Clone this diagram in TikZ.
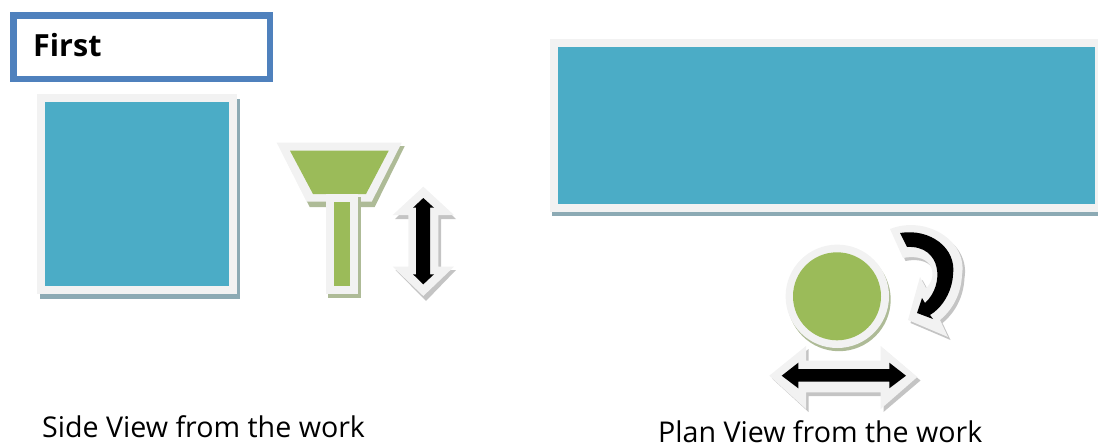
\documentclass[tikz,border=0pt]{standalone}
\usepackage{fontspec}
\setmainfont{Open Sans}
\definecolor{frameblue}{HTML}{4F81BD}
\definecolor{tealfill}{HTML}{4BACC6}
\definecolor{greenfill}{HTML}{9BBB59}
\definecolor{halo}{HTML}{F2F2F2}
\definecolor{tealshade}{HTML}{8CAAB4}
\definecolor{greenshade}{HTML}{AEBB97}
\definecolor{greyshade}{HTML}{C4C4C4}
\begin{document}
\begin{tikzpicture}[x=1pt,y=-1pt,
    caption/.style={inner sep=0pt,anchor=base west,font=\fontsize{28.6}{34}\selectfont},
    haloed/.style={fill=halo,draw=none},
    teal/.style={fill=tealfill,draw=none},
    green/.style={fill=greenfill,draw=none},
    black/.style={fill=black,draw=none}]
  \useasboundingbox (0,0) rectangle (1098,447);

  % title box
  \node[draw=frameblue,line width=6.5pt,minimum width=256.5pt,minimum height=63.5pt,inner sep=0pt,anchor=north west,fill=white] (titlebox) at (10,12) {};
  \node[inner sep=0pt,anchor=base west,font=\fontsize{30.5}{36}\selectfont\bfseries] (title) at (33,56.5) {First};

  % side view
  \fill[tealshade] (39.5,99) rectangle (240,299);
  \fill[haloed] (37,94) rectangle (237,294);
  \fill[teal] (45,102) rectangle (229,286);

  % funnel
  \fill[greenshade] (279.7,146.2) -- (404.7,146.2) -- (374.7,207) -- (309.7,207) -- cycle;
  \fill[haloed] (276.7,142.7) -- (401.7,142.7) -- (371.7,201.7) -- (306.7,201.7) -- cycle;
  \fill[green] (290,150.7) -- (388.7,150.7) -- (366,194) -- (313,194) -- cycle;
  \fill[greenshade] (328,197) rectangle (360.5,298);
  \fill[haloed] (325.7,194.3) rectangle (358,294);
  \fill[green] (333.7,202.3) rectangle (350,286);

  % up down arrow
  \fill[greyshade] (425.5,190) -- (456,219) -- (441,219) -- (441,270) -- (456,270) -- (426,301) -- (395.5,270) -- (411,270) -- (411,219) -- (395,219) -- cycle;
  \fill[haloed] (423.3,186.7) -- (392.7,215) -- (408.3,215) -- (408.3,266.7) -- (392.7,266.7) -- (423.3,296) -- (454,266.7) -- (438.3,266.7) -- (438.3,215) -- (454,215) -- cycle;
  \fill[black] (423.3,198) -- (413,207.7) -- (416,207.7) -- (416,274.3) -- (413,274.3) -- (423.3,284.3) -- (434,274.3) -- (430,274.3) -- (430,207.7) -- (434,207.7) -- cycle;

  % plan view
  \fill[tealshade] (552,43) rectangle (1098,216);
  \fill[haloed] (550,39) rectangle (1098,212);
  \fill[teal] (558,47) rectangle (1095,204);

  % left right arrow
  \fill[greyshade] (772,378.5) -- (808.5,349) -- (808.5,364) -- (883.5,364) -- (883.5,349) -- (920.5,380.5) -- (883.5,412) -- (883.5,396) -- (808.5,396) -- (808.5,412) -- cycle;
  \fill[haloed] (769.3,375.7) -- (806,346) -- (806,360.7) -- (880.7,360.7) -- (880.7,346) -- (917.3,377) -- (880.7,409) -- (880.7,392.3) -- (806,392.3) -- (806,409) -- cycle;
  \fill[black] (781.7,375.7) -- (798.3,362.7) -- (798.3,369) -- (889.3,369) -- (889.3,362.7) -- (906,375.7) -- (889.3,388.3) -- (889.3,381.7) -- (798.3,381.7) -- (798.3,388.3) -- cycle;

  % plan circle
  \fill[greenshade] (839,299.5) circle (51.7);
  \fill[haloed] (837.3,296.3) circle (51.7);
  \fill[green] (837,296.3) circle (44);

  % rotate arrow
  \fill[greyshade] (892.5,232) .. controls (927.5,218) and (970.5,243) .. (964.5,278) .. controls (963.5,298) and (954.5,313) .. (942.5,323) -- (950.5,340) -- (910.5,323) -- (922.5,280) -- (928.5,291) .. controls (940.5,281) and (937.5,255) .. (905.5,261) -- cycle;
  \fill[haloed] (890,229) .. controls (925,215) and (968,240) .. (962,275) .. controls (961,295) and (952,310) .. (940,320) -- (948,337) -- (908,320) -- (920,277) -- (926,288) .. controls (938,278) and (935,252) .. (903,258) -- cycle;
  \fill[black] (900,233) .. controls (930,228) and (957,248) .. (953,275) .. controls (952,292) and (942,308) .. (930,315) -- (933,319) -- (917,313) -- (922,298) -- (925,303) .. controls (945,285) and (942,245) .. (907,247) -- cycle;

  % captions
  \node[caption] (sideview) at (42,437) {Side View from the work};
  \node[caption] (planview) at (658,442) {Plan View from the work};
\end{tikzpicture}
\end{document}
